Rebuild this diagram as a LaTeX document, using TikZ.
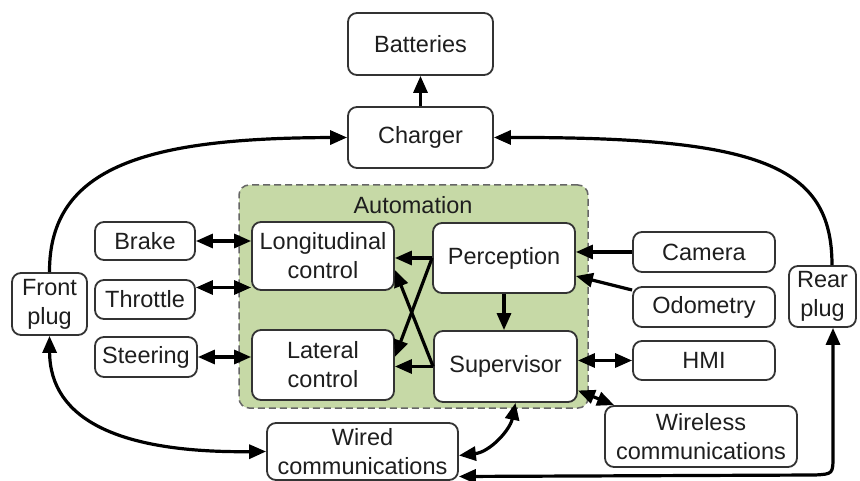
\documentclass[tikz,border=0pt]{standalone}
\usepackage{fontspec}
\setmainfont{Liberation Sans}
\usetikzlibrary{arrows.meta}
\definecolor{autogreen}{RGB}{198,217,166}
\definecolor{txt}{RGB}{30,30,30}
\newcommand\dfont{\fontsize{23.5}{29}\selectfont}
\begin{document}
\begin{tikzpicture}[x=1pt,y=-1pt,
  box/.style={draw=black!80, line width=1.8pt, rounded corners=9pt, fill=white, align=center, inner sep=0pt, font=\dfont, text=txt},
  autobox/.style={draw=black!60, line width=1.5pt, dash pattern=on 7pt off 4pt, fill=autogreen, rounded corners=10pt, inner sep=0pt},
  conn/.style={line width=3.2pt, -{Triangle[length=17pt,width=14pt]}},
  bconn/.style={line width=3.2pt, {Triangle[length=17pt,width=14pt]}-{Triangle[length=17pt,width=14pt]}}]
\useasboundingbox (0,0) rectangle (860,481);
\fill[white] (0,0) rectangle (860,481);

% containers
\node[autobox, minimum width=349pt, minimum height=223pt] (auto) at (413.5,296.5) {};
\node[font=\dfont, text=txt] (autolabel) at (413,205) {Automation};

% nodes
\node[box, minimum width=145pt, minimum height=62pt] (bat) at (420.5,44) {Batteries};
\node[box, minimum width=145pt, minimum height=61pt] (chg) at (420.5,137.5) {Charger};
\node[box, minimum width=142pt, minimum height=68pt] (lon) at (323,256) {Longitudinal\\control};
\node[box, minimum width=142pt, minimum height=70pt] (lat) at (323,365) {Lateral\\control};
\node[box, minimum width=142pt, minimum height=70pt] (per) at (504,258) {Perception};
\node[box, minimum width=143pt, minimum height=71pt] (sup) at (505.5,366.5) {Supervisor};
\node[box, minimum width=100pt, minimum height=38pt] (brake) at (145,241) {Brake};
\node[box, minimum width=100pt, minimum height=39pt] (thr) at (145,299.5) {Throttle};
\node[box, minimum width=102pt, minimum height=40pt] (ste) at (146,357) {Steering};
\node[box, minimum width=75pt, minimum height=62pt] (front) at (49.5,304) {Front\\plug};
\node[box, minimum width=142pt, minimum height=40pt] (cam) at (704,252) {Camera};
\node[box, minimum width=142pt, minimum height=40pt] (odo) at (704,307) {Odometry};
\node[box, minimum width=142pt, minimum height=39pt] (hmi) at (704,360.5) {HMI};
\node[box, minimum width=192pt, minimum height=61pt] (wless) at (701,436.5) {Wireless\\communications};
\node[box, minimum width=67pt, minimum height=61pt] (rear) at (822.5,296.5) {Rear\\plug};
\node[box, minimum width=191pt, minimum height=57pt] (wired) at (362.5,451.5) {Wired\\communications};

% connectors
\draw[conn] (chg.north) -- (bat.south);
\draw[conn] (front.north) .. controls (49,165) and (150,138) .. (chg.west);
\draw[conn] ([xshift=9.5pt]rear.north) .. controls (832,165) and (760,137) .. (chg.east);

\draw[bconn] (brake.east) -- (brake.east -| lon.west);
\draw[bconn] ([yshift=12pt]thr.east) -- ([yshift=12pt]thr.east -| lon.west);
\draw[bconn] (ste.east) -- (ste.east -| lat.west);

\draw[conn] (per.west) -- (per.west -| lon.east);
\draw[conn] (per.west) -- ([yshift=8pt]lat.east);
\draw[conn] (sup.west) -- (sup.west -| lat.east);
\draw[conn] (sup.west) -- ([yshift=-14pt]lon.east);
\draw[conn] (per.south) -- (per.south |- sup.north);

\draw[conn] (cam.west) -- (cam.west -| per.east);
\draw[conn] ([yshift=17pt]odo.west) -- ([yshift=-18pt]per.east);
\draw[bconn] (hmi.west) -- (hmi.west -| sup.east);
\draw[bconn] ([xshift=10pt]wless.north west) -- ([yshift=-24pt]sup.east);

\draw[bconn] (front.south) .. controls (50,420) and (120,453) .. (wired.west);
\draw[bconn] ([xshift=10pt]sup.south) .. controls (510,430) and (490,452) .. ([yshift=-4pt]wired.east);
\draw[bconn] ([yshift=-25pt]wired.east) -- (815,475) .. controls (833,474) .. (833,455) -- ([xshift=10.5pt]rear.south);
\end{tikzpicture}
\end{document}
